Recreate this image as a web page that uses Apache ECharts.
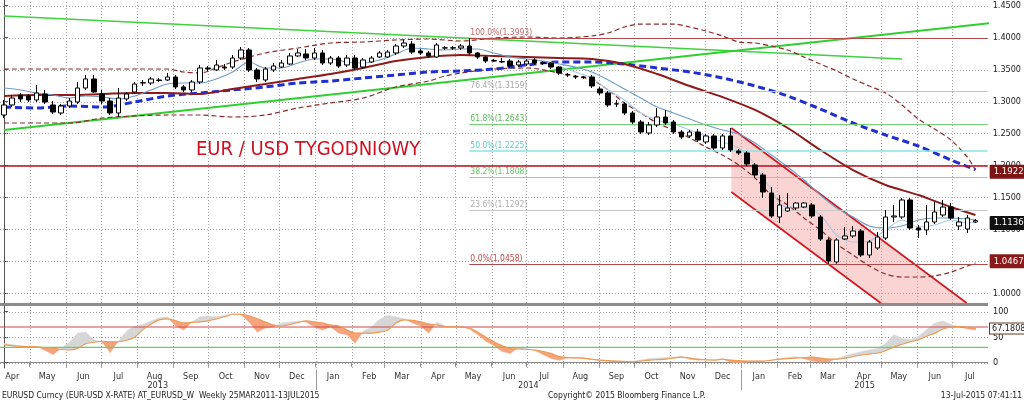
<!DOCTYPE html>
<html><head><meta charset="utf-8">
<script src="https://cdn.jsdelivr.net/npm/echarts@6/dist/echarts.min.js"></script>
<style>html,body{margin:0;padding:0;background:#fff}#c{width:1024px;height:401px}</style>
</head><body><div id="c"></div>
<script>
// ---------- DATA ----------
const firstWeek = Date.UTC(2013, 3, 9);   // week index 0
const weekCount = 121;
const monthLabels = ['Apr','May','Jun','Jul','Aug','Sep','Oct','Nov','Dec','Jan','Feb','Mar','Apr','May','Jun','Jul','Aug','Sep','Oct','Nov','Dec','Jan','Feb','Mar','Apr','May','Jun','Jul'];
const yearLabels = ['2013','2014','2015'];
const priceTicks = [1.00,1.05,1.10,1.15,1.20,1.25,1.30,1.35,1.40,1.45];
const oscTicks = [0,50,100];

const openV = [
1.2789,1.2946,1.3102,1.3087,1.3024,1.3118,1.2946,1.2821,1.2930,1.2993,
1.3212,1.3353,1.3118,1.3008,1.2821,1.3040,1.3149,1.3290,1.3290,1.3337,
1.3337,1.3384,1.3228,1.3181,1.3306,1.3525,1.3494,1.3540,1.3540,1.3681,
1.3807,1.3494,1.3337,1.3494,1.3540,1.3587,1.3713,1.3744,1.3681,1.3760,
1.3603,1.3681,1.3572,1.3681,1.3540,1.3619,1.3697,1.3697,1.3760,1.3869,
1.3900,1.3791,1.3760,1.3697,1.3838,1.3840,1.3838,1.3869,1.3760,1.3697,
1.3640,1.3619,1.3634,1.3572,1.3587,1.3650,1.3603,1.3603,1.3540,1.3420,
1.3390,1.3384,1.3384,1.3196,1.3134,1.2961,1.2961,1.2821,1.2680,1.2508,
1.2633,1.2758,1.2680,1.2523,1.2461,1.2523,1.2367,1.2461,1.2273,1.2461,
1.2226,1.2195,1.2007,1.1850,1.1569,1.1193,1.1287,1.1334,1.1349,1.1381,
1.1193,1.0833,1.0489,1.0849,1.0896,1.0974,1.0598,1.0708,1.0864,1.1193,
1.1193,1.1459,1.1021,1.0990,1.1115,1.1224,1.1349,1.1052,1.1005,1.1115];
const closeV = [
1.2946,1.3055,1.3040,1.3024,1.3134,1.2993,1.2836,1.2930,1.3008,1.3212,
1.3353,1.3149,1.3008,1.2821,1.3055,1.3118,1.3274,1.3295,1.3353,1.3330,
1.3384,1.3228,1.3181,1.3306,1.3525,1.3509,1.3572,1.3525,1.3681,1.3807,
1.3494,1.3353,1.3509,1.3556,1.3603,1.3713,1.3760,1.3681,1.3760,1.3603,
1.3681,1.3556,1.3681,1.3525,1.3650,1.3681,1.3760,1.3775,1.3869,1.3916,
1.3775,1.3760,1.3713,1.3885,1.3840,1.3838,1.3869,1.3760,1.3697,1.3634,
1.3634,1.3625,1.3556,1.3619,1.3634,1.3603,1.3600,1.3540,1.3447,1.3415,
1.3384,1.3380,1.3243,1.3134,1.2946,1.2965,1.2821,1.2680,1.2523,1.2633,
1.2758,1.2664,1.2523,1.2445,1.2523,1.2398,1.2461,1.2273,1.2461,1.2242,
1.2195,1.2022,1.1850,1.1584,1.1209,1.1381,1.1334,1.1412,1.1412,1.1209,
1.0849,1.0504,1.0833,1.0896,1.0974,1.0598,1.0802,1.0880,1.1193,1.1209,
1.1459,1.1021,1.0990,1.1115,1.1271,1.1349,1.1177,1.1115,1.1177,1.1136];
const lowV = [
1.2742,1.2914,1.2993,1.2993,1.2993,1.2961,1.2805,1.2789,1.2899,1.2961,
1.3181,1.3134,1.2961,1.2789,1.2758,1.3008,1.3118,1.3243,1.3259,1.3306,
1.3321,1.3196,1.3149,1.3149,1.3274,1.3478,1.3478,1.3494,1.3509,1.3650,
1.3462,1.3306,1.3306,1.3462,1.3525,1.3572,1.3697,1.3650,1.3650,1.3572,
1.3572,1.3525,1.3540,1.3494,1.3509,1.3603,1.3681,1.3681,1.3728,1.3838,
1.3744,1.3728,1.3681,1.3681,1.3807,1.3807,1.3807,1.3728,1.3666,1.3603,
1.3619,1.3603,1.3525,1.3540,1.3556,1.3572,1.3572,1.3509,1.3415,1.3384,
1.3353,1.3353,1.3212,1.3102,1.2914,1.2914,1.2789,1.2649,1.2492,1.2476,
1.2601,1.2633,1.2492,1.2414,1.2430,1.2367,1.2336,1.2242,1.2242,1.2210,
1.2164,1.1991,1.1803,1.1490,1.1177,1.1099,1.1271,1.1303,1.1334,1.1177,
1.0817,1.0458,1.0462,1.0833,1.0864,1.0567,1.0551,1.0677,1.0833,1.1115,
1.1162,1.0990,1.0864,1.0911,1.1083,1.1193,1.1146,1.0990,1.0943,1.1099];
const highV = [
1.3024,1.3102,1.3134,1.3118,1.3259,1.3181,1.3008,1.2961,1.3055,1.3306,
1.3415,1.3415,1.3181,1.3055,1.3212,1.3149,1.3306,1.3337,1.3384,1.3368,
1.3447,1.3415,1.3259,1.3337,1.3572,1.3556,1.3650,1.3587,1.3728,1.3853,
1.3838,1.3525,1.3540,1.3603,1.3650,1.3760,1.3822,1.3822,1.3838,1.3807,
1.3713,1.3713,1.3728,1.3728,1.3681,1.3713,1.3791,1.3807,1.3900,1.3963,
1.3947,1.3822,1.3791,1.3916,1.3869,1.3869,1.3900,1.3993,1.3775,1.3713,
1.3666,1.3681,1.3666,1.3650,1.3666,1.3681,1.3634,1.3619,1.3556,1.3447,
1.3415,1.3400,1.3415,1.3228,1.3165,1.3024,1.2993,1.2852,1.2711,1.2680,
1.2899,1.2868,1.2711,1.2555,1.2555,1.2570,1.2492,1.2492,1.2492,1.2586,
1.2257,1.2226,1.2038,1.1882,1.1662,1.1537,1.1569,1.1428,1.1428,1.1412,
1.1224,1.0864,1.0864,1.1037,1.1052,1.1005,1.0833,1.0958,1.1303,1.1381,
1.1490,1.1490,1.1068,1.1381,1.1428,1.1459,1.1412,1.1193,1.1224,1.1162];

// moving averages / bands, [week, value]
const maSlow = [[0,1.3087],[4,1.3102],[8,1.3102],[12,1.3118],[16,1.3134],[20,1.3134],[24,1.3118],[28,1.3196],[32,1.3274],[36,1.3353],[40,1.3431],[44,1.3525],[48,1.3634],[52,1.3697],[56,1.3728],[60,1.3713],[64,1.3697],[68,1.3681],[72,1.3666],[76,1.3587],[80,1.3431],[84,1.3243],[88,1.3071],[92,1.2868],[96,1.2586],[100,1.2242],[104,1.1928],[108,1.1694],[112,1.1537],[116,1.1349],[119,1.1224]];
const maLong = [[0,1.2914],[4,1.2899],[8,1.2930],[12,1.2914],[16,1.2993],[20,1.3087],[24,1.3134],[28,1.3181],[32,1.3228],[36,1.3290],[40,1.3321],[44,1.3368],[48,1.3415],[52,1.3462],[56,1.3478],[60,1.3509],[64,1.3572],[68,1.3619],[72,1.3619],[76,1.3587],[80,1.3525],[84,1.3462],[88,1.3368],[92,1.3243],[96,1.3087],[100,1.2883],[104,1.2664],[108,1.2476],[112,1.2304],[116,1.2085],[119,1.1935]];
const bandUpper = [[0,1.3509],[8,1.3509],[16,1.3509],[20,1.3509],[22,1.3462],[24,1.3447],[26,1.3525],[28,1.3619],[32,1.3760],[36,1.3838],[40,1.3916],[44,1.3932],[48,1.3963],[52,1.3979],[56,1.3947],[60,1.3994],[64,1.4010],[68,1.3994],[72,1.4026],[74,1.4073],[76,1.4166],[78,1.4213],[82,1.4213],[84,1.4166],[86,1.4104],[88,1.4026],[90,1.3932],[92,1.3916],[94,1.3869],[96,1.3807],[98,1.3697],[100,1.3587],[102,1.3478],[104,1.3353],[106,1.3243],[108,1.3134],[110,1.2946],[112,1.2727],[114,1.2570],[116,1.2398],[118,1.2132],[119,1.1929]];
const bandLower = [[0,1.2664],[8,1.2664],[12,1.2742],[16,1.2774],[20,1.2789],[24,1.2789],[28,1.2758],[32,1.2789],[36,1.2899],[40,1.2977],[44,1.3055],[48,1.3228],[52,1.3321],[54,1.3400],[56,1.3447],[60,1.3509],[64,1.3525],[68,1.3447],[72,1.3337],[74,1.3181],[76,1.2977],[78,1.2821],[80,1.2664],[82,1.2554],[84,1.2429],[86,1.2288],[88,1.2163],[90,1.2007],[92,1.1803],[94,1.1537],[96,1.1381],[98,1.1177],[100,1.0989],[102,1.0770],[104,1.0598],[106,1.0426],[108,1.0301],[110,1.0254],[112,1.0254],[114,1.0270],[116,1.0332],[119,1.0473]];
const maMid = [[0,1.3212],[2,1.3181],[4,1.3134],[6,1.3102],[8,1.3055],[10,1.3087],[12,1.3071],[14,1.3040],[16,1.3087],[18,1.3181],[20,1.3274],[22,1.3290],[24,1.3290],[26,1.3353],[28,1.3462],[30,1.3619],[32,1.3525],[34,1.3525],[36,1.3603],[38,1.3666],[40,1.3666],[42,1.3619],[44,1.3603],[46,1.3650],[48,1.3744],[50,1.3838],[52,1.3822],[54,1.3807],[56,1.3822],[58,1.3822],[60,1.3760],[62,1.3697],[64,1.3666],[66,1.3634],[68,1.3587],[70,1.3540],[72,1.3462],[74,1.3337],[76,1.3196],[78,1.3055],[80,1.2914],[82,1.2821],[84,1.2727],[86,1.2633],[88,1.2555],[90,1.2492],[92,1.2351],[94,1.2163],[96,1.1976],[98,1.1772],[100,1.1537],[102,1.1334],[104,1.1193],[106,1.1052],[108,1.1021],[110,1.1052],[112,1.1146],[114,1.1177],[116,1.1177],[119,1.1146]];
const maFast = [[68,1.3556],[70,1.3462],[72,1.3368],[74,1.3181],[76,1.3024],[78,1.2821],[80,1.2711],[82,1.2649],[84,1.2555],[86,1.2461],[88,1.2367],[90,1.2273],[91,1.2163],[92,1.2007],[93,1.1803],[94,1.1616],[95,1.1412],[96,1.1349],[98,1.1349],[100,1.1224],[101,1.1068],[102,1.0911],[104,1.0802],[106,1.0817],[107,1.0896],[108,1.0989],[110,1.1146],[112,1.1037],[114,1.1068],[116,1.1146],[118,1.1099],[119,1.1115]];

// drawn annotations
const trendDown = [[0,1.4339],[110,1.3666]];
const trendUp = [[0,1.2554],[121,1.4230]];
const channelStart = 89.1, channelTop = 1.2586, channelBottom = 1.1584, channelSlope = -0.0095;
const supportLevel = 1.2042;
const fibStart = 57;
const fibPct = ['100.0%','76.4%','61.8%','50.0%','38.2%','23.6%','0.0%'];
const fibVal = [1.3993,1.3159,1.2643,1.2225,1.1808,1.1292,1.0458];
const fibLine = ['#b04a4a','#c4c4c4','#74d074','#86e4e4','#8ed88e','#c8c8c8','#b04a4a'];
const fibText = ['#c06a6a','#a8a8a8','#58b858','#62cccc','#62c462','#b0b0b0','#c04848'];
const valueTags = [1.1922, 1.1136, 1.0467];
const valueTagBg = ['#7c1414', '#111111', '#8a1a1a'];
const oscLast = 67.1808;

// oscillator rows: [week, smoothed line, fast line]
const oscillator = [[0,35,38],[2,32,33],[4,31,32],[6,28,16],[8,25,40],[9,28,58],[10,37,60],[11,40,45],[12,42,40],[13,41,20],[14,41,42],[15,44,62],[16,50,72],[17,65,75],[18,76,82],[19,84,88],[20,86,90],[21,82,72],[22,78,64],[23,79,80],[24,80,90],[25,82,92],[26,86,90],[27,90,93],[28,95,96],[29,95,94],[30,92,80],[31,86,60],[32,80,68],[33,74,70],[34,72,78],[35,75,80],[36,79,82],[37,82,80],[38,80,70],[39,78,64],[40,74,70],[41,72,58],[42,64,55],[43,58,38],[44,58,62],[45,58,70],[46,60,85],[47,64,93],[48,78,90],[49,84,86],[50,83,78],[51,80,72],[52,76,58],[53,74,80],[54,71,72],[56,70,70],[57,68,66],[58,60,55],[59,50,42],[60,41,33],[61,33,22],[62,28,18],[63,27,30],[64,26,28],[65,25,24],[66,22,16],[67,18,8],[68,12,5],[69,10,9],[71,9,8],[73,5,4],[75,3,2],[77,2,3],[79,5,8],[81,7,10],[83,11,12],[84,9,7],[85,7,5],[87,5,6],[88,7,7],[89,5,1],[90,4,0],[91,3,1],[93,3,3],[95,7,8],[97,9,12],[99,11,3],[100,9,1],[101,7,2],[102,7,8],[103,9,14],[105,15,22],[107,19,28],[108,24,38],[109,31,55],[110,36,48],[111,41,45],[112,45,52],[113,52,65],[114,58,78],[115,66,82],[116,70,75],[117,71,70],[118,69,66],[119,67.18,64]];

// ---------- DERIVED ----------
const DAY = 864e5;
const wk = t => (t - firstWeek) / (7 * DAY);
const weeks = Array.from({length: weekCount}, (_, i) => new Date(firstWeek + i * 7 * DAY).toISOString().slice(0, 10));
const monthStarts = [], monthMids = [];
monthLabels.forEach((m, i) => {
  const y = 2013 + Math.floor((3 + i) / 12), mo = (3 + i) % 12;
  monthStarts.push(wk(Date.UTC(y, mo, 1)));
  monthMids.push(wk(Date.UTC(y, mo, 16)));
});
const yearBreaks = [wk(Date.UTC(2014, 0, 1)), wk(Date.UTC(2015, 0, 1))];
const xMin = -0.5, xMax = weekCount - 0.5;
const yearCenters = [(xMin + yearBreaks[0]) / 2, (yearBreaks[0] + yearBreaks[1]) / 2, (yearBreaks[1] + xMax) / 2];
const visibleStarts = monthStarts.filter(v => v > xMin);

const yMin = 0.9847, yMax = 1.4589;
const oMin = -10.4, oMax = 111.2;
const F = "'DejaVu Sans Condensed','Liberation Sans Narrow','Liberation Sans',sans-serif";

const candles = openV.map((o, i) => [o, closeV[i], lowV[i], highV[i]]);
const chEndUpper = channelStart + (yMin - channelTop) / channelSlope;
const chEndLower = channelStart + (yMin - channelBottom) / channelSlope;
const channelPoly = [[channelStart, channelTop], [chEndUpper, yMin], [chEndLower, yMin], [channelStart, channelBottom]];

const oscSegs = [];
for (let i = 0; i < oscillator.length - 1; i++) {
  const a = oscillator[i], b = oscillator[i + 1];
  oscSegs.push([a[0], b[0], a[1], b[1], a[2], b[2]]);
}

function lineSeries(data, color, width, type, z, xi, yi) {
  return {type: 'line', xAxisIndex: xi == null ? 1 : xi, yAxisIndex: yi == null ? 0 : yi, data, showSymbol: false, symbol: 'none',
    lineStyle: {color, width, type: type || 'solid'}, z: z || 3, silent: true, animation: false, smooth: 0.3};
}
// dotted grid drawn as custom line segments through the axis scales
function gridSeries(hVals, vVals, y0, y1, xi, yi) {
  const rows = hVals.map(v => [xMin, v, xMax, v]).concat(vVals.map(v => [v, y0, v, y1]));
  return {type: 'custom', xAxisIndex: xi, yAxisIndex: yi, data: rows, z: 1, silent: true, animation: false,
    encode: {x: [0, 2], y: [1, 3]},
    renderItem: (p, api) => {
      const a = api.coord([api.value(0), api.value(1)]), b = api.coord([api.value(2), api.value(3)]);
      const horiz = Math.abs(a[1] - b[1]) < 0.5;
      const snap = v => Math.round(v) + 0.5;
      const shape = horiz ? {x1: a[0], y1: snap(a[1]), x2: b[0], y2: snap(b[1])} : {x1: snap(a[0]), y1: a[1], x2: snap(b[0]), y2: b[1]};
      return {type: 'line', shape, style: {stroke: '#a2a2a2', lineWidth: 1, lineDash: [1, 2]}};
    }};
}

const chart = echarts.init(document.getElementById('c'));
const option = {
  animation: false,
  backgroundColor: '#ffffff',
  grid: [
    {left: -4, top: 0, width: 992, height: 303},
    {left: -4, top: 306, width: 992, height: 62}
  ],
  xAxis: [
    {type: 'category', gridIndex: 0, data: weeks, boundaryGap: true, show: false},
    {type: 'value', gridIndex: 0, min: xMin, max: xMax, show: false},
    {type: 'value', gridIndex: 1, min: xMin, max: xMax, position: 'bottom',
      axisLine: {show: true, lineStyle: {color: '#8a8a8a'}},
      axisTick: {show: true, customValues: monthStarts, length: 4, lineStyle: {color: '#8a8a8a'}},
      axisLabel: {show: true, customValues: monthMids, margin: 4, fontSize: 9, color: '#333', fontFamily: F,
        formatter: v => { let best = 0; monthMids.forEach((m, i) => { if (Math.abs(m - v) < Math.abs(monthMids[best] - v)) best = i; }); return monthLabels[best]; }},
      splitLine: {show: false}}
  ],
  yAxis: [
    {type: 'value', gridIndex: 0, position: 'right', min: yMin, max: yMax,
      axisLine: {show: true, lineStyle: {color: '#555'}},
      axisTick: {show: true, customValues: priceTicks, length: 4, lineStyle: {color: '#555'}},
      axisLabel: {customValues: priceTicks, formatter: v => v.toFixed(4), fontSize: 9, color: '#222', margin: 5, fontFamily: F},
      splitLine: {show: false}},
    {type: 'value', gridIndex: 1, position: 'right', min: oMin, max: oMax,
      axisLine: {show: true, lineStyle: {color: '#555'}},
      axisTick: {show: true, customValues: oscTicks, length: 4, lineStyle: {color: '#555'}},
      axisLabel: {customValues: oscTicks, fontSize: 9, color: '#222', margin: 5, fontFamily: F},
      splitLine: {show: false}}
  ],
  series: [
    gridSeries(priceTicks, visibleStarts, yMin, yMax, 1, 0),
    // channel fill
    {type: 'custom', xAxisIndex: 1, yAxisIndex: 0, data: [[channelStart]], z: 1, silent: true,
      renderItem: (p, api) => ({type: 'polygon', shape: {points: channelPoly.map(q => api.coord(q))},
        style: {fill: 'rgba(244,150,150,0.42)', stroke: 'none'}})},
    // fib, support
    {type: 'line', xAxisIndex: 1, yAxisIndex: 0, data: [], z: 2, silent: true,
      markLine: {silent: true, symbol: ['none', 'none'], animation: false,
        data: fibVal.map((v, i) => [
          {coord: [fibStart, v], lineStyle: {color: fibLine[i], width: i === 3 ? 1.6 : 1.1, type: 'solid'},
            label: {show: true, position: 'insideStartTop', distance: 1, formatter: fibPct[i] + '(' + v.toFixed(4) + ')',
              color: fibText[i], fontSize: 8.5, fontFamily: F}},
          {coord: [xMax, v]}
        ]).concat([{yAxis: supportLevel, lineStyle: {color: '#b5121b', width: 1.6, type: 'solid'}, label: {show: false}}])}},
    // value tags on the right edge
    {type: 'line', xAxisIndex: 1, yAxisIndex: 0, data: [], z: 8, silent: true,
      markLine: {silent: true, symbol: ['none', 'none'], animation: false,
        lineStyle: {color: 'rgba(0,0,0,0)', width: 1, type: 'solid'},
        data: valueTags.map((v, i) => ({yAxis: v,
          label: {show: true, position: 'end', distance: 2, formatter: v.toFixed(4), color: '#ffffff', fontSize: 9.5, fontFamily: F,
            backgroundColor: valueTagBg[i], padding: [2, 3, 2, 4], borderRadius: 1}}))}},
    // trend lines
    lineSeries(trendDown, '#3fd23f', 1.6, 'solid', 2),
    lineSeries(trendUp, '#2fcf2f', 2.2, 'solid', 2),
    // channel edges
    {type: 'line', xAxisIndex: 1, yAxisIndex: 0, data: [[channelStart, channelTop], [chEndUpper, yMin]], showSymbol: false, symbol: 'none', lineStyle: {color: '#d3161e', width: 1.6}, z: 2, silent: true},
    {type: 'line', xAxisIndex: 1, yAxisIndex: 0, data: [[channelStart, channelBottom], [chEndLower, yMin]], showSymbol: false, symbol: 'none', lineStyle: {color: '#d3161e', width: 1.6}, z: 2, silent: true},
    // indicators
    lineSeries(bandUpper, '#8a2a2a', 1.2, [5, 3], 3),
    lineSeries(bandLower, '#8a2a2a', 1.2, [5, 3], 3),
    lineSeries(maLong, '#1f2fd0', 3, [7, 4], 3),
    lineSeries(maSlow, '#8e1a1a', 2, 'solid', 3),
    lineSeries(maMid, '#6f9cc6', 1.1, 'solid', 3),
    lineSeries(maFast, '#a9c8e2', 1.1, 'solid', 3),
    // candles
    {type: 'candlestick', xAxisIndex: 0, yAxisIndex: 0, data: candles, barWidth: 5, z: 5, silent: true,
      itemStyle: {color: '#ffffff', color0: '#000000', borderColor: '#000000', borderColor0: '#000000', borderWidth: 1}},
    // oscillator grid + levels
    gridSeries(oscTicks, visibleStarts, oMin, oMax, 2, 1),
    lineSeries([[xMin, 70], [xMax, 70]], '#d24848', 1.2, 'solid', 2, 2, 1),
    lineSeries([[xMin, 30], [xMax, 30]], '#62d062', 1.2, 'solid', 2, 2, 1),
    {type: 'line', xAxisIndex: 2, yAxisIndex: 1, data: [], z: 8, silent: true,
      markLine: {silent: true, symbol: ['none', 'none'], animation: false,
        lineStyle: {color: 'rgba(0,0,0,0)', width: 1, type: 'solid'},
        data: [{yAxis: oscLast, label: {show: true, position: 'end', distance: 2, formatter: String(oscLast), color: '#222', fontSize: 9, fontFamily: F,
          backgroundColor: '#fff', borderColor: '#6b3a1a', borderWidth: 1, padding: [1, 2, 0, 2]}}]}},
    // oscillator fill
    {type: 'custom', xAxisIndex: 2, yAxisIndex: 1, data: oscSegs, z: 2, silent: true,
      encode: {x: [0, 1], y: [2, 3, 4, 5]},
      renderItem: (p, api) => {
        const k1 = api.value(0), k2 = api.value(1), a1 = api.value(2), a2 = api.value(3), b1 = api.value(4), b2 = api.value(5);
        const d1 = b1 - a1, d2 = b2 - a2;
        const col = d => d > 0 ? '#d6d6d6' : '#f4a37c';
        const polys = [];
        if (d1 * d2 < 0) {
          const t = d1 / (d1 - d2), km = k1 + t * (k2 - k1), vm = a1 + t * (a2 - a1);
          polys.push({pts: [[k1, a1], [km, vm], [k1, b1]], c: col(d1)});
          polys.push({pts: [[km, vm], [k2, a2], [k2, b2]], c: col(d2)});
        } else {
          polys.push({pts: [[k1, a1], [k2, a2], [k2, b2], [k1, b1]], c: col(d1 + d2)});
        }
        return {type: 'group', children: polys.map(q => ({type: 'polygon', shape: {points: q.pts.map(r => api.coord(r))},
          style: {fill: q.c, stroke: q.c, lineWidth: 0.4}}))};
      }},
    {type: 'line', xAxisIndex: 2, yAxisIndex: 1, data: oscillator.map(r => [r[0], r[1]]), showSymbol: false, symbol: 'none',
      lineStyle: {color: '#ee9a50', width: 1.1}, z: 3, silent: true, smooth: 0.3}
  ]
};
chart.setOption(option);

// layout decorations positioned through the axis scale
const graphics = [];
yearLabels.forEach((t, i) => {
  const x = chart.convertToPixel({xAxisIndex: 2}, yearCenters[i]);
  graphics.push({type: 'text', x, y: 386, style: {text: t, font: '9px ' + F, fill: '#333', textAlign: 'center', textVerticalAlign: 'middle'}});
});
yearBreaks.forEach(b => {
  const x = Math.round(chart.convertToPixel({xAxisIndex: 2}, b)) + 0.5;
  graphics.push({type: 'line', shape: {x1: x, y1: 370, x2: x, y2: 390}, style: {stroke: '#9a9a9a', lineWidth: 1}});
});
graphics.push({type: 'rect', shape: {x: 0, y: 303, width: 988, height: 3}, style: {fill: '#8c8c8c'}});
graphics.push({type: 'text', x: 196, y: 150, style: {text: 'EUR / USD TYGODNIOWY', font: '20px ' + F, fill: '#cf1020', textVerticalAlign: 'middle'}});
graphics.push({type: 'text', x: 2, y: 396, style: {text: 'EURUSD Curncy (EUR-USD X-RATE) AT_EURUSD_W  Weekly 25MAR2011-13JUL2015', font: '8.5px ' + F, fill: '#222', textVerticalAlign: 'middle'}});
graphics.push({type: 'text', x: 548, y: 396, style: {text: 'Copyright\u00a9 2015 Bloomberg Finance L.P.', font: '8.5px ' + F, fill: '#222', textVerticalAlign: 'middle'}});
graphics.push({type: 'text', x: 1022, y: 396, style: {text: '13-Jul-2015 07:41:11', font: '8.5px ' + F, fill: '#222', textAlign: 'right', textVerticalAlign: 'middle'}});
chart.setOption({graphic: graphics});
</script>
</body></html>
